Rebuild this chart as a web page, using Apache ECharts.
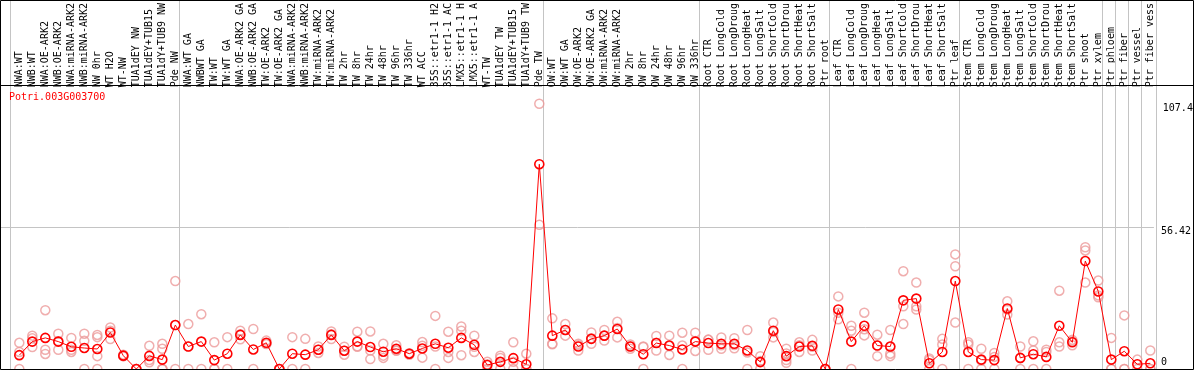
<!DOCTYPE html>
<html>
<head>
<meta charset="utf-8">
<script src="https://cdn.jsdelivr.net/npm/echarts@6.0.0/dist/echarts.min.js"></script>
<style>
html,body{margin:0;padding:0;background:#fff;}
#main{width:1194px;height:370px;}
</style>
</head>
<body>
<div id="main"></div>
<script>
const geneId = 'Potri.003G003700';

const categories = [
'NWA:WT','NWB:WT','NWA:OE-ARK2','NWB:OE-ARK2','NWA:miRNA-ARK2','NWB:miRNA-ARK2','NW 0hr','WT H2O','WT-NW','TUA1dEY NW',
'TUA1dEY+TUB15','TUA1dY+TUB9 NW','Pde NW',
'NWA:WT GA','NWBWT GA','TW:WT','TW:WT GA','NWA:OE-ARK2 GA','NWB:OE-ARK2 GA','TW:OE-ARK2','TW:OE-ARK2 GA','NWA:miRNA-ARK2','NWB:miRNA-ARK2',
'TW:miRNA-ARK2','TW:miRNA-ARK2','TW 2hr','TW 8hr','TW 24hr','TW 48hr','TW 96hr','TW 336hr','WT ACC','35S::etr1-1 H2',
'35S::etr1-1 AC','LMX5::etr1-1 H','LMX5::etr1-1 A','WT-TW','TUA1dEY TW','TUA1dEY+TUB15','TUA1dY+TUB9 TW','Pde TW',
'OW:WT','OW:WT GA','OW:OE-ARK2','OW:OE-ARK2 GA','OW:miRNA-ARK2','OW:miRNA-ARK2','OW 2hr','OW 8hr','OW 24hr','OW 48hr','OW 96hr','OW 336hr',
'Root CTR','Root LongCold','Root LongDroug','Root LongHeat','Root LongSalt','Root ShortCold','Root ShortDrou','Root ShortHeat','Root ShortSalt','Ptr root',
'Leaf CTR','Leaf LongCold','Leaf LongDroug','Leaf LongHeat','Leaf LongSalt','Leaf ShortCold','Leaf ShortDrou','Leaf ShortHeat','Leaf ShortSalt','Ptr leaf',
'Stem CTR','Stem LongCold','Stem LongDroug','Stem LongHeat','Stem LongSalt','Stem ShortCold','Stem ShortDrou','Stem ShortHeat','Stem ShortSalt','Ptr shoot','Ptr xylem',
'Ptr phloem','Ptr fiber','Ptr vessel','Ptr fiber vess'
];

// index of the first category of each group (separator lines)
const groupStarts = [0, 13, 41, 53, 63, 73, 84, 85, 86, 87];

const means = [
5.6, 11.1, 12.6, 11.1, 9.0, 8.5, 8.1, 14.8, 5.4, 0,
5.3, 3.8, 17.8, 9.1, 11.1, 3.6, 6.2, 13.8, 7.9, 10.6,
0, 6.2, 5.8, 7.8, 13.8, 7.4, 11.1, 8.9, 7.0, 8.2,
6.2, 8.3, 10.2, 8.6, 12.6, 9.8, 1.6, 2.9, 4.4, 1.9,
82.9, 13.5, 15.8, 9.1, 12.2, 13.5, 16.2, 9.1, 6.0, 10.5,
9.5, 7.9, 11.1, 10.5, 10.2, 10.2, 7.5, 2.8, 15.5, 5.2,
9.1, 9.4, 0, 24.1, 11.1, 17.5, 9.5, 9.1, 27.8, 28.5,
2.3, 6.9, 35.6, 6.9, 3.8, 3.6, 24.5, 4.5, 6.0, 4.9,
17.5, 10.8, 43.7, 31.4, 3.8, 7.2, 1.9, 2.3
];

const replicates = [
[10.6,6.9,0],[13.5,12.4,8.9],[23.8,7.8,6.1],[14.3,7.8,11.2],[12.6,7.8,6.9],
[14.3,11.4,0],[13.8,12.9,5.2,0],[16.8,15.5,12.1],[5.8,5.2,5.2],[0,0,0],
[9.4,3.6,2.7],[10.2,8.2,0,0,0],[35.6,17.8,0],[18.2,9.1,0],[22.2,0],
[10.8,0,0],[12.9,0],[15.5,14.1,12.0],[16.2,0],[11.5,10.2,10.1],
[0,0,0],[12.9,0],[12.2,0],[9.1,6.5,7.8],[15.2,14.1,12.1],
[9.0,7.4,5.8],[15.1,9.2,9.0],[15.2,7.5,4.0],[10.2,5.4,4.5],[9.6,7.6,7.4],
[6.4,6.2,5.8],[10.9,9.4,4.6],[21.5,9.1,0],[15.1,6.9,4.5],[17.2,15.5,5.6],
[13.5,9.0,6.9],[2.9,1.9,0],[5.4,4.5,0],[10.8,2.9,0],[6.2,0,0],
[107.4,58.4],[20.5,10.2,10.0],[18.2,15.8,13.5],[10.2,9.6,7.5],[14.8,12.4,10.2],
[15.8,13.5,11.5],[19.1,16.6,12.8],[9.9,9.2,8.2],[9.1,8.9,0],[13.4,10.6,7.5],
[13.5,9.3,5.7],[14.7,9.5,0],[14.7,11.3,7.3],[11.8,11.9,7.8],[12.8,9.6,8.2],
[12.5,9.7,8.4],[15.8,6.7,0],[5.2,3.2,0],[18.8,15.0,12.8],[8.2,6.3,3.6,2.5],
[10.8,9.6,6.9],[11.8,9.0,7.5],[0,0,0],[29.4,22.8,20.1],[17.5,15.5,0],
[22.8,16.1,13.6],[13.9,9.5,5.2],[15.8,9.0,6.2,5.2],[39.6,25.4,18.2],[35.0,25.4,24.1],
[4.3,3.6,0],[12.2,9.9,0],[46.4,41.6,18.8],[10.8,9.9,0],[8.2,3.4,0],
[6.5,4.9,0],[27.4,24.1,22.1],[9.1,4.4,0],[11.2,7.5,0],[7.8,6.9,0],
[31.7,10.8,9.1],[11.8,11.2,9.6],[49.3,48.0,35.0],[35.8,29.8,29.0],[12.6,0,0],
[21.7,0,0],[3.8,0],[7.5,0,0]
];

const yMax = 112.84;
const yStep = 56.42;

const FONT = '"DejaVu Sans Mono", "Liberation Mono", monospace';
const repPoints = [];
replicates.forEach((arr, i) => arr.forEach(v => repPoints.push([i, v])));
const sepData = groupStarts.concat([categories.length]).map(s => [s, 0]);

const chart = echarts.init(document.getElementById('main'), null, {renderer: 'canvas'});
chart.setOption({
  animation: false,
  backgroundColor: '#ffffff',
  title: {
    text: geneId, left: 9, top: 92, padding: 0,
    textStyle: {color: '#ff0000', fontFamily: FONT, fontSize: 10, fontWeight: 'normal'}
  },
  grid: [
    {left: 1, right: 38, top: 85, bottom: 1},
    {left: 12.8, right: 37.2, top: 85, bottom: 1}
  ],
  xAxis: [
    {gridIndex: 0, type: 'value', min: 0, max: 1, show: false},
    {gridIndex: 1, type: 'category', position: 'top', data: categories, boundaryGap: true,
     axisLine: {show: false}, axisTick: {show: false}, splitLine: {show: false},
     axisLabel: {interval: 0, rotate: 90, margin: 3, fontFamily: FONT, fontSize: 10, color: '#000'}}
  ],
  yAxis: [
    {gridIndex: 0, type: 'value', position: 'right', min: 0, max: yMax, interval: yStep,
     axisLine: {show: false}, axisTick: {show: false},
     splitLine: {show: true, lineStyle: {color: '#c4c4c4', width: 1}},
     axisLabel: {
       margin: 7, color: '#000', fontFamily: FONT, fontSize: 10,
       formatter: function (v) {
         if (v === 0) return '{u|0}';
         if (Math.abs(v - yStep) < 1e-6) return '{d|' + yStep + '}';
         return '';
       },
       rich: {
         u: {fontFamily: FONT, fontSize: 10, color: '#000', padding: [0, 0, 14, 0]},
         d: {fontFamily: FONT, fontSize: 10, color: '#000', padding: [9, 0, 0, 0]}
       }
     }},
    {gridIndex: 1, type: 'value', min: 0, max: yMax, show: false}
  ],
  series: [
    {
      type: 'custom', xAxisIndex: 1, yAxisIndex: 1, silent: true, clip: false, z: 1,
      data: sepData,
      renderItem: function (params, api) {
        const idx = api.value(0);
        const cs = params.coordSys;
        const bw = api.size([1, 0])[0];
        let x;
        if (idx >= categories.length) x = cs.x + cs.width - 1;
        else x = api.coord([idx, 0])[0] - bw * 0.68;
        x = Math.round(x) + 0.5;
        return {type: 'line', shape: {x1: x, y1: 0, x2: x, y2: cs.y + cs.height},
                style: {stroke: '#c4c4c4', lineWidth: 1}};
      }
    },
    {
      type: 'scatter', xAxisIndex: 1, yAxisIndex: 1, z: 2, silent: true,
      data: repPoints, symbol: 'circle', symbolSize: 9,
      itemStyle: {color: 'rgba(255,255,255,0)', borderColor: '#ec9a9a', borderWidth: 1.5},
      markLine: {
        silent: true, symbol: 'none',
        lineStyle: {color: 'rgba(0,0,0,0)', width: 1, type: 'solid'},
        label: {show: true, position: 'end', distance: 6, offset: [0, 5], color: '#000',
                fontFamily: FONT, fontSize: 10, formatter: function (p) { return String(p.value); }},
        data: [{type: 'max', name: 'max'}]
      }
    },
    {
      type: 'line', xAxisIndex: 1, yAxisIndex: 1, z: 3, silent: true,
      data: means, symbol: 'circle', symbolSize: 9, showAllSymbol: true,
      lineStyle: {color: '#ff0000', width: 1},
      itemStyle: {color: 'rgba(255,255,255,0)', borderColor: '#ff0000', borderWidth: 1.6}
    }
  ],
  graphic: [
    {type: 'rect', z: 100, silent: true, shape: {x: 0.5, y: 0.5, width: 1193, height: 369},
     style: {fill: null, stroke: '#000', lineWidth: 1}},
    {type: 'line', z: 100, silent: true, shape: {x1: 0, y1: 85.5, x2: 1194, y2: 85.5},
     style: {stroke: '#000', lineWidth: 1}}
  ]
});
</script>
</body>
</html>
